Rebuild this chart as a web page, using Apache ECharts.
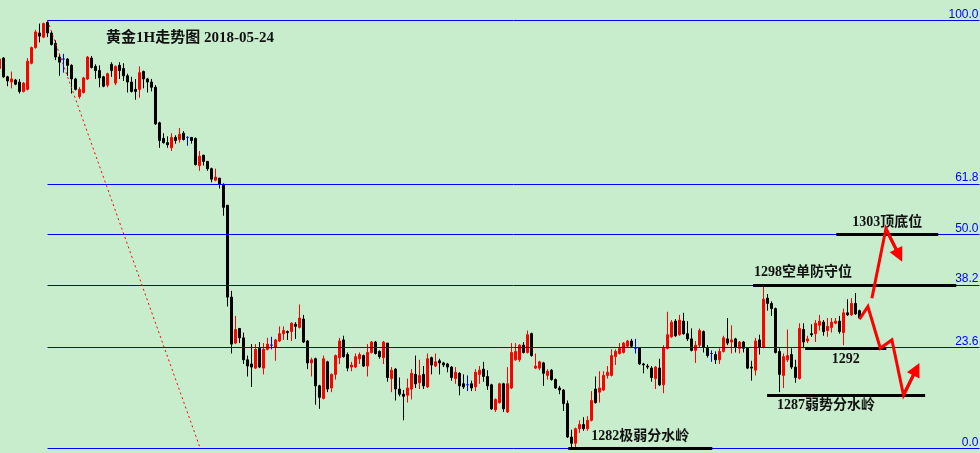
<!DOCTYPE html>
<html>
<head>
<meta charset="utf-8">
<script src="https://cdn.jsdelivr.net/npm/echarts@6/dist/echarts.min.js"></script>
<style>
html,body{margin:0;padding:0;background:#C7EDCC;}
#chart{width:980px;height:453px;}
</style>
</head>
<body>
<div id="chart"></div>
<script>
// ---------- DATA ----------
const title = '黄金1H走势图 2018-05-24';

// hourly candles [open, close, low, high]
const ohlc = [
[1318.7,1319.6,1318.5,1319.8],[1319.7,1317.9,1317.8,1319.8],[1317.9,1317.5,1317.0,1318.0],[1317.4,1317.7,1316.8,1318.4],
[1317.6,1317.2,1317.1,1317.7],[1317.4,1316.5,1316.3,1317.7],[1316.5,1317.3,1316.4,1317.4],[1316.7,1319.4,1316.6,1319.7],
[1319.2,1320.7,1319.1,1320.8],[1320.7,1322.2,1320.6,1322.4],[1322.1,1321.8,1321.2,1323.0],[1321.7,1323.0,1321.6,1323.1],
[1323.1,1322.1,1321.7,1323.3],[1322.1,1321.0,1320.9,1322.3],[1321.1,1319.8,1319.5,1321.4],[1319.8,1319.3,1318.0,1320.1],
[1319.6,1319.6,1318.3,1320.1],[1319.6,1319.0,1318.0,1319.7],[1319.0,1317.7,1316.3,1319.1],[1317.7,1316.7,1316.6,1317.8],
[1316.0,1316.7,1315.8,1316.9],[1316.4,1317.8,1316.3,1317.9],[1317.7,1319.8,1317.6,1319.9],[1319.7,1318.8,1318.7,1319.9],
[1318.9,1318.5,1317.7,1319.1],[1318.5,1317.8,1316.9,1319.0],[1317.9,1317.0,1316.9,1318.0],[1317.1,1318.2,1316.9,1318.3],
[1319.1,1318.5,1317.9,1319.3],[1317.3,1318.9,1317.1,1319.0],[1319.0,1318.5,1317.7,1319.3],[1318.7,1318.0,1317.5,1319.2],
[1318.0,1317.4,1316.4,1318.2],[1317.4,1316.5,1316.4,1317.9],[1316.7,1316.5,1315.7,1317.7],[1316.7,1318.3,1315.9,1318.9],
[1318.4,1317.7,1316.8,1318.5],[1317.7,1317.4,1316.4,1317.8],[1317.4,1316.9,1316.5,1317.7],[1316.9,1313.4,1313.3,1317.1],
[1313.5,1311.8,1311.1,1313.6],[1312.0,1311.6,1311.5,1312.5],[1311.6,1311.4,1311.1,1312.2],[1311.1,1312.1,1310.8,1312.5],
[1312.1,1311.8,1311.5,1312.3],[1311.9,1312.4,1311.6,1313.0],[1312.5,1311.9,1311.8,1312.7],[1312.1,1312.1,1311.3,1312.2],
[1312.1,1311.8,1311.5,1312.1],[1312.0,1309.5,1309.4,1312.1],[1309.4,1310.3,1308.9,1310.8],[1310.4,1309.8,1309.4,1310.4],
[1309.8,1309.1,1308.9,1309.8],[1309.1,1308.1,1307.8,1309.2],[1308.0,1308.3,1307.9,1309.1],[1308.2,1307.6,1307.2,1308.2],
[1307.6,1305.4,1304.6,1307.7],[1305.6,1296.8,1295.9,1305.6],[1296.8,1292.3,1291.4,1297.4],[1292.4,1293.7,1292.3,1295.0],
[1293.8,1292.9,1292.4,1293.8],[1292.9,1290.8,1290.4,1293.4],[1290.8,1290.2,1289.2,1291.2],[1290.4,1290.1,1288.2,1292.3],
[1290.0,1291.8,1289.9,1292.3],[1291.9,1290.1,1290.0,1292.5],[1290.0,1291.8,1289.4,1292.4],[1291.8,1292.3,1291.7,1292.9],
[1292.2,1292.2,1291.8,1293.0],[1292.0,1292.7,1290.7,1292.8],[1292.6,1293.3,1292.5,1294.0],[1293.3,1293.6,1292.7,1294.0],
[1293.5,1293.4,1292.7,1293.6],[1293.5,1294.3,1292.6,1294.4],[1294.2,1294.0,1292.8,1294.4],[1293.9,1294.8,1293.8,1296.1],
[1294.7,1292.5,1292.4,1295.1],[1292.6,1290.5,1289.9,1292.7],[1290.5,1290.8,1289.2,1291.0],[1290.9,1288.3,1286.5,1291.0],
[1288.3,1287.2,1286.1,1288.4],[1287.1,1290.9,1287.0,1291.2],[1290.6,1288.0,1287.7,1290.7],[1288.1,1289.4,1287.7,1289.5],
[1289.4,1291.2,1288.9,1291.3],[1291.0,1292.6,1290.4,1292.9],[1292.7,1291.1,1291.0,1293.1],[1291.3,1290.0,1289.7,1291.5],
[1290.1,1290.3,1289.7,1290.6],[1290.1,1291.1,1290.0,1291.4],[1290.9,1291.3,1290.4,1291.5],[1291.2,1290.2,1290.1,1291.3],
[1290.2,1291.5,1289.2,1292.3],[1291.5,1292.5,1291.4,1292.6],[1292.5,1291.4,1291.3,1292.6],[1291.6,1291.1,1290.9,1291.7],
[1291.0,1292.5,1290.4,1292.6],[1292.4,1289.1,1288.7,1292.4],[1289.0,1289.8,1287.7,1290.1],[1289.9,1288.0,1286.9,1290.0],
[1288.0,1287.5,1287.3,1289.1],[1287.5,1287.3,1285.0,1287.9],[1287.4,1288.1,1286.7,1289.0],[1288.0,1289.5,1287.0,1289.9],
[1289.4,1288.5,1288.1,1291.2],[1288.6,1289.3,1288.0,1290.8],[1289.4,1288.3,1288.0,1290.2],[1288.2,1290.9,1288.1,1291.4],
[1291.0,1290.3,1289.4,1291.1],[1290.2,1290.6,1290.1,1291.4],[1290.7,1290.5,1289.4,1290.9],[1290.5,1290.3,1290.1,1290.6],
[1290.4,1290.1,1289.6,1290.5],[1290.1,1289.1,1288.8,1290.2],[1289.0,1289.6,1288.5,1290.1],[1289.5,1288.3,1287.4,1289.6],
[1288.5,1288.2,1288.0,1289.4],[1288.4,1288.4,1287.8,1289.3],[1288.5,1288.1,1287.8,1288.8],[1288.2,1289.6,1287.8,1289.9],
[1289.4,1289.8,1288.5,1290.2],[1289.9,1289.2,1288.7,1290.6],[1289.2,1288.3,1287.9,1289.8],[1288.4,1286.1,1286.0,1288.5],
[1286.0,1287.0,1285.8,1287.1],[1286.7,1288.5,1286.6,1288.6],[1288.5,1286.1,1285.8,1288.6],[1285.8,1288.5,1285.7,1290.1],
[1288.1,1291.5,1288.0,1292.4],[1290.8,1291.6,1290.7,1292.4],[1290.8,1292.2,1290.6,1292.3],[1292.2,1291.5,1291.4,1292.5],
[1291.5,1293.2,1291.4,1293.6],[1293.3,1291.2,1291.1,1293.4],[1290.0,1290.2,1289.9,1291.4],[1290.0,1290.6,1289.8,1290.7],
[1290.5,1289.5,1288.3,1290.6],[1289.3,1289.7,1288.9,1289.9],[1289.8,1288.9,1288.8,1289.9],[1288.9,1288.1,1288.0,1289.0],
[1288.1,1287.9,1287.5,1288.3],[1287.9,1286.6,1285.9,1288.0],[1286.6,1283.4,1283.3,1286.9],[1283.4,1282.8,1282.3,1284.1],
[1282.8,1284.2,1282.4,1284.3],[1284.2,1284.6,1283.8,1285.0],[1284.6,1284.2,1284.0,1285.3],[1284.2,1285.0,1284.0,1285.4],
[1285.0,1286.9,1284.9,1287.8],[1288.0,1286.7,1286.6,1289.2],[1287.7,1288.1,1286.7,1289.7],[1287.9,1289.3,1287.8,1289.7],
[1289.3,1289.6,1289.0,1290.2],[1289.3,1291.2,1289.2,1291.8],[1291.1,1291.6,1290.3,1291.8],[1291.4,1291.9,1291.3,1292.4],
[1291.5,1292.4,1291.4,1292.5],[1292.1,1292.6,1292.0,1292.7],[1292.6,1292.1,1292.0,1292.8],[1291.9,1291.9,1291.4,1292.8],
[1291.9,1290.4,1290.3,1292.0],[1290.4,1290.3,1289.5,1290.5],[1290.2,1290.1,1289.9,1290.4],[1290.0,1289.1,1288.7,1290.2],
[1289.0,1290.1,1288.0,1290.2],[1290.0,1288.4,1288.3,1290.9],[1288.4,1291.9,1287.6,1292.2],[1291.9,1293.2,1291.8,1295.4],
[1293.0,1294.4,1292.9,1294.6],[1294.5,1293.1,1293.0,1294.7],[1293.2,1294.6,1293.1,1295.1],[1294.5,1293.3,1293.2,1295.3],
[1293.3,1292.8,1292.6,1294.5],[1292.8,1291.7,1291.6,1293.8],[1291.7,1292.2,1290.5,1292.6],[1292.2,1293.6,1292.0,1293.8],
[1293.5,1292.0,1291.5,1293.6],[1291.9,1291.2,1291.0,1292.2],[1291.4,1291.4,1290.6,1291.7],[1291.3,1290.8,1290.4,1291.6],
[1290.8,1291.6,1290.4,1291.9],[1291.6,1292.9,1291.5,1293.1],[1292.8,1292.4,1292.2,1294.8],[1292.5,1292.7,1291.4,1294.1],
[1292.8,1292.0,1291.5,1292.9],[1291.9,1292.5,1291.4,1292.6],[1292.5,1291.9,1291.5,1292.6],[1291.9,1290.0,1289.9,1292.0],
[1290.1,1290.0,1288.8,1290.7],[1289.8,1292.6,1289.3,1292.9],[1292.7,1292.0,1291.3,1293.2],[1292.0,1296.6,1291.9,1297.8],
[1296.7,1296.2,1295.5,1297.1],[1296.2,1295.7,1295.0,1296.4],[1295.7,1291.5,1291.4,1295.8],[1291.6,1289.4,1287.7,1291.9],
[1289.3,1291.1,1288.1,1291.4],[1290.8,1291.2,1290.6,1293.7],[1291.3,1290.1,1289.9,1291.9],[1290.1,1289.1,1288.6,1290.8],
[1289.0,1293.8,1288.9,1294.3],[1293.7,1292.5,1291.9,1294.3],[1292.6,1292.8,1292.4,1293.1],[1293.3,1293.2,1293.0,1294.2],
[1293.3,1294.3,1292.5,1294.6],[1294.1,1294.5,1293.6,1295.1],[1294.4,1293.5,1293.1,1294.6],[1293.6,1294.0,1293.0,1294.8],
[1293.9,1294.4,1293.4,1294.8],[1294.3,1294.5,1294.2,1294.8],[1294.5,1293.5,1293.3,1295.0],[1293.4,1295.3,1292.2,1295.7],
[1295.3,1295.1,1295.0,1296.6],[1295.1,1296.2,1295.0,1296.7],[1296.2,1295.2,1295.1,1297.2],[1295.5,1294.8,1294.7,1295.6]
];

// Fibonacci retracement anchors (swing high / swing low) and levels
const fibHigh = 1323.3;
const fibLow = 1282.3;
const fibHighBar = 12;          // bar index of the swing high
const fibLowBar = 50.2;         // where the dotted swing line meets the low level
const fibPercents = [100.0, 61.8, 50.0, 38.2, 23.6, 0.0];

// annotated price levels
const noteTexts  = ['1303顶底位', '1298空单防守位', '1292', '1287弱势分水岭', '1282极弱分水岭'];
const notePrices = [1302.8, 1297.9, 1291.9, 1287.4, 1282.3];
const noteFrom   = [209.2, 188.4, 201.4, 191.9, 142.2];
const noteTo     = [234.7, 239.2, 221.7, 231.4, 178.2];

// forecast paths [bar index, price]
const pathUp   = [[218.1, 1296.7], [221.6, 1303.35], [224.9, 1300.8]];
const pathDown = [[215.0, 1294.7], [217.1, 1295.9], [220.2, 1291.9], [223.1, 1292.7], [226.0, 1287.4], [229.2, 1289.9]];

// ---------- LAYOUT / STYLE ----------
const PAD_SLOTS = 30;
const categories = Array.from({length: ohlc.length + PAD_SLOTS}, (_, i) => 'H' + i);
const LAST = categories.length - 1;
const BAR_W = 4;
const Y_MIN = 1281.87, Y_MAX = 1325.26;
const SERIF = "'Liberation Serif','Noto Sans CJK SC',serif";

const noteLabel = [
  {position: 'insideMiddleTop', distance: 5},
  {position: 'insideStartTop', distance: [1, 6]},
  {position: 'insideMiddleBottom', distance: 4},
  {position: 'insideStartBottom', distance: [10, 3]},
  {position: 'insideMiddleTop', distance: 5}
];

const candleData = ohlc.map(d => d[0] === d[1]
  ? {value: d, itemStyle: {color: '#0000ff', color0: '#0000ff', borderColor: '#0000ff', borderColor0: '#0000ff', borderColorDoji: '#0000ff'}}
  : d);

const fibLines = fibPercents.map(p => {
  const v = fibLow + p / 100 * (fibHigh - fibLow);
  return [
    {coord: [fibHighBar, v], lineStyle: {color: '#0000ff', width: 1, type: 'solid'},
     label: {show: true, position: 'insideEndTop', formatter: p.toFixed(1), color: '#0000ff',
             fontSize: 12, fontFamily: "'Liberation Sans',Arial,sans-serif", distance: [1, 0]}},
    {coord: [LAST, v]}
  ];
});

const trendLine = [[
  {coord: [fibHighBar, fibHigh], lineStyle: {color: '#ff0000', width: 1, type: [2, 3]}, label: {show: false}},
  {coord: [fibLowBar, fibLow]}
]];

const noteLines = noteTexts.map((t, i) => [
  {coord: [noteFrom[i], notePrices[i]], lineStyle: {color: '#000', width: 3, type: 'solid'},
   label: Object.assign({show: true, formatter: t, color: '#111', fontSize: 14, fontFamily: SERIF, fontWeight: 'bold'}, noteLabel[i])},
  {coord: [noteTo[i], notePrices[i]]}
]);

function arrowSeries(name, pts) {
  return {
    name, type: 'line', xAxisIndex: 1, data: pts, symbol: 'none', silent: true, z: 10,
    lineStyle: {color: '#ff0000', width: 3, join: 'miter'},
    markLine: {
      silent: true, symbol: ['none', 'triangle'], symbolSize: 14, animation: false,
      lineStyle: {color: '#ff0000', width: 3, type: 'solid'}, label: {show: false},
      data: [[{coord: pts[pts.length - 2]}, {coord: pts[pts.length - 1]}]]
    }
  };
}

const chart = echarts.init(document.getElementById('chart'));
chart.setOption({
  backgroundColor: '#C7EDCC',
  animation: false,
  title: {
    text: title, left: 106, top: 31, padding: 0,
    textStyle: {fontFamily: SERIF, fontSize: 15, fontWeight: 'bold', color: '#111'}
  },
  grid: {left: -2.5, top: 0, width: categories.length * BAR_W, height: 453,
         containLabel: false, outerBoundsMode: 'none'},
  xAxis: [
    {type: 'category', data: categories, show: false, boundaryGap: true},
    {type: 'value', min: -0.5, max: LAST + 0.5, show: false}
  ],
  yAxis: {type: 'value', min: Y_MIN, max: Y_MAX, show: false, splitLine: {show: false}},
  series: [
    {
      name: 'levels', type: 'line', xAxisIndex: 1, data: [], silent: true, z: 1,
      markLine: {silent: true, symbol: ['none', 'none'], animation: false, precision: 1,
                 data: fibLines.concat(trendLine)}
    },
    {
      name: 'XAU', type: 'candlestick', xAxisIndex: 0, data: candleData, barWidth: 2, z: 3,
      itemStyle: {color: '#ff0000', color0: '#000000', borderColor: '#ff0000', borderColor0: '#000000',
                  borderColorDoji: '#0000ff', borderWidth: 1}
    },
    {
      name: 'notes', type: 'line', xAxisIndex: 1, data: [], silent: true, z: 5,
      markLine: {silent: true, symbol: ['none', 'none'], animation: false, data: noteLines}
    },
    arrowSeries('up', pathUp),
    arrowSeries('down', pathDown)
  ]
});
</script>
</body>
</html>
